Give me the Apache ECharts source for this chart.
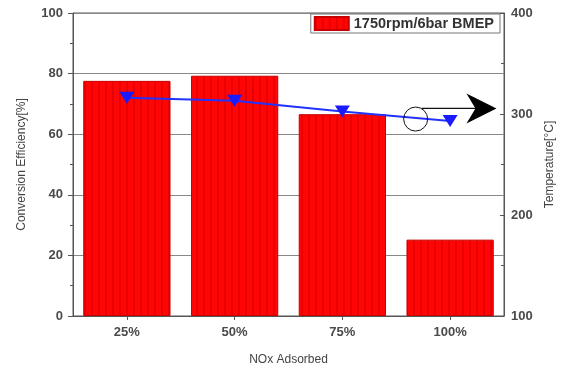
<!DOCTYPE html>
<html>
<head>
<meta charset="utf-8">
<script src="https://cdn.jsdelivr.net/npm/echarts@6/dist/echarts.min.js"></script>
<style>
  html, body { margin: 0; padding: 0; background: #fff; }
  #chart { width: 567px; height: 371px; }
</style>
</head>
<body>
<div id="chart"></div>
<script>
// NOx adsorbed fraction categories
const categories = ['25%', '50%', '75%', '100%'];
// Conversion efficiency [%] at 1750rpm / 6bar BMEP
const efficiency = [77.6, 79.3, 66.6, 25.2];
// Catalyst temperature [°C]
const temperature = [316, 313, 302.5, 293];
// Axis tick values
const effTicks = [0, 20, 40, 60, 80, 100];
const tempTicks = [100, 200, 300, 400];

// Striped red fill for the bars
function stripePattern() {
  const c = document.createElement('canvas');
  c.width = 7; c.height = 4;
  const g = c.getContext('2d');
  g.fillStyle = '#ff0505';
  g.fillRect(0, 0, 7, 4);
  g.fillStyle = '#eb0000';
  g.fillRect(0, 0, 2, 4);
  return c;
}

const chart = echarts.init(document.getElementById('chart'));
const labelFont = { color: '#4a4a4a', fontSize: 13, fontWeight: 'bold', fontFamily: 'Liberation Sans, Arial, sans-serif' };
const nameFont = { color: '#444', fontSize: 12, fontFamily: 'Liberation Sans, Arial, sans-serif' };
const axisLine = { show: true, lineStyle: { color: '#555', width: 1 } };

chart.setOption({
  animation: false,
  grid: { left: 73, right: 63, top: 13, bottom: 53, show: true, borderColor: '#555', borderWidth: 1 },
  legend: {
    data: [{ name: '1750rpm/6bar BMEP', icon: 'rect' }],
    right: 67, top: 14,
    itemWidth: 34, itemHeight: 13,
    itemGap: 6,
    padding: [2, 6, 2, 3],
    borderColor: '#777', borderWidth: 1,
    backgroundColor: '#fff',
    textStyle: { color: '#333', fontSize: 14.5, fontWeight: 'bold', fontFamily: 'Liberation Sans, Arial, sans-serif' }
  },
  xAxis: {
    type: 'category',
    data: categories,
    name: 'NOx Adsorbed',
    nameLocation: 'middle',
    nameGap: 38,
    nameTextStyle: nameFont,
    axisLine: axisLine,
    axisTick: { show: true, alignWithLabel: true, length: 4, lineStyle: { color: '#555' } },
    axisLabel: Object.assign({ margin: 10 }, labelFont)
  },
  yAxis: [
    {
      type: 'value', min: 0, max: 100, interval: 20,
      name: 'Conversion Efficiency[%]',
      nameLocation: 'middle', nameGap: 45, nameRotate: 90,
      nameTextStyle: nameFont,
      axisLine: axisLine,
      axisTick: { show: true, length: 5, lineStyle: { color: '#555' } },
      minorTick: { show: true, splitNumber: 2, length: 3, lineStyle: { color: '#555' } },
      axisLabel: Object.assign({ margin: 10 }, labelFont),
      splitLine: { show: true, lineStyle: { color: '#888', width: 1 } }
    },
    {
      type: 'value', min: 100, max: 400, interval: 100,
      name: 'Temperature[°C]',
      nameLocation: 'middle', nameGap: 38, nameRotate: 90,
      nameTextStyle: nameFont,
      axisLine: axisLine,
      axisTick: { show: true, inside: true, length: 4, lineStyle: { color: '#555' } },
      minorTick: { show: true, splitNumber: 2, length: 3, lineStyle: { color: '#555' } },
      axisLabel: Object.assign({ margin: 7 }, labelFont),
      splitLine: { show: false }
    }
  ],
  series: [
    {
      name: '1750rpm/6bar BMEP',
      type: 'bar',
      data: efficiency,
      barCategoryGap: '19%',
      itemStyle: {
        color: { image: stripePattern(), repeat: 'repeat' },
        borderColor: '#c80000', borderWidth: 1
      }
    },
    {
      name: 'Temperature',
      type: 'line',
      yAxisIndex: 1,
      data: temperature,
      symbol: 'triangle',
      symbolRotate: 180,
      symbolSize: [15, 12],
      lineStyle: { color: '#2233ff', width: 2 },
      itemStyle: { color: '#1a1aff' },
      z: 5
    }
  ]
});

// Callout: circle on the temperature curve with an arrow pointing to the right-hand axis
function drawCallout() {
  const c2 = chart.convertToPixel({ xAxisIndex: 0 }, 2);
  const c3 = chart.convertToPixel({ xAxisIndex: 0 }, 3);
  const step = c3 - c2;
  const cx = c2 + 0.68 * step;
  const cy = chart.convertToPixel({ yAxisIndex: 1 }, 295);
  const ay = chart.convertToPixel({ yAxisIndex: 1 }, 305.5);
  const tipX = c3 + 0.43 * step;
  const r = 12;
  chart.setOption({
    graphic: [
      { type: 'circle', shape: { cx: cx, cy: cy, r: r }, style: { fill: 'none', stroke: '#111', lineWidth: 1 }, z: 10 },
      { type: 'line', shape: { x1: cx + 6, y1: ay, x2: tipX - 20, y2: ay }, style: { stroke: '#111', lineWidth: 1.3 }, z: 10 },
      { type: 'polygon', shape: { points: [[tipX, ay], [tipX - 30, ay - 15], [tipX - 21, ay], [tipX - 30, ay + 15]] }, style: { fill: '#000' }, z: 10 }
    ]
  });
}
drawCallout();
</script>
</body>
</html>
